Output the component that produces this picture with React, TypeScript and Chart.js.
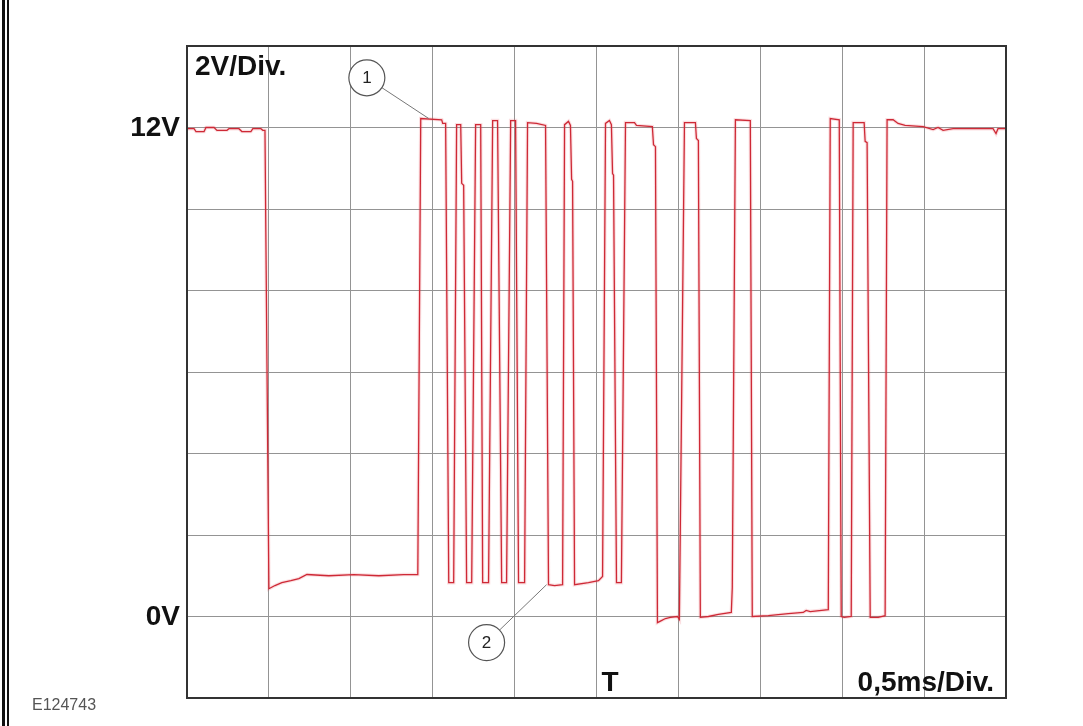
import React, { useEffect, useRef } from "react";
import { Chart, registerables } from "chart.js";

Chart.register(...registerables);

// Oscilloscope trace: time in ms (0,5 ms/Div, 10 divisions), voltage in V (2 V/Div)
const traceTimeMs = [
  0, 0.043, 0.055, 0.104, 0.116, 0.165, 0.183, 0.244, 0.256, 0.317, 0.335, 0.39, 0.402, 0.451, 0.463, 0.476,
  0.5, 0.537, 0.579, 0.634, 0.683, 0.732, 0.866, 1.018, 1.171, 1.323, 1.409,
  1.427, 1.555, 1.561, 1.579, 1.598, 1.628, 1.646, 1.671, 1.677, 1.689, 1.707, 1.738,
  1.762, 1.793, 1.805, 1.841, 1.866, 1.896, 1.921, 1.951, 1.976, 2.006, 2.024, 2.061,
  2.079, 2.134, 2.189, 2.207, 2.244, 2.293, 2.305, 2.329, 2.341, 2.348, 2.354, 2.366,
  2.451, 2.512, 2.537, 2.555, 2.579, 2.591, 2.598, 2.604, 2.622, 2.652,
  2.677, 2.732, 2.744, 2.841, 2.848, 2.86, 2.872, 2.896, 2.921, 2.951, 2.994, 3.006,
  3.037, 3.104, 3.11, 3.122, 3.134, 3.183, 3.244, 3.323, 3.329,
  3.348, 3.439, 3.451, 3.549, 3.671, 3.762, 3.78, 3.805, 3.915,
  3.927, 3.982, 3.994, 4.012, 4.055, 4.067, 4.134, 4.14, 4.152, 4.171, 4.22, 4.262,
  4.274, 4.311, 4.341, 4.384, 4.494, 4.555, 4.585, 4.616, 4.677, 4.799, 4.921, 4.939, 4.951, 5.0,
];
const traceVolts = [
  11.97, 11.97, 11.9, 11.9, 12.0, 12.0, 11.93, 11.93, 11.97, 11.97, 11.9, 11.9, 11.97, 11.97, 11.93, 11.93,
  0.68, 0.76, 0.83, 0.88, 0.93, 1.03, 1.0, 1.03, 1.0, 1.03, 1.03,
  12.22, 12.19, 12.1, 12.1, 0.83, 0.83, 12.07, 12.07, 10.63, 10.58, 0.83, 0.83,
  12.07, 12.07, 0.83, 0.83, 12.17, 12.17, 0.83, 0.83, 12.17, 12.17, 0.83, 0.83,
  12.12, 12.1, 12.05, 0.78, 0.76, 0.78, 12.07, 12.15, 12.05, 10.73, 10.68, 0.78,
  0.83, 0.88, 0.98, 12.1, 12.17, 12.07, 10.87, 10.83, 0.83, 0.83,
  12.12, 12.12, 12.05, 12.02, 11.58, 11.53, -0.15, -0.1, -0.05, -0.02, 0.0, -0.07,
  12.12, 12.12, 11.73, 11.68, -0.02, 0.0, 0.05, 0.1, 0.71,
  12.19, 12.17, 0.0, 0.02, 0.07, 0.1, 0.15, 0.12, 0.17,
  12.22, 12.19, 0.0, -0.02, 0.0, 12.12, 12.12, 11.66, 11.63, -0.02, -0.02, 0.02,
  12.19, 12.19, 12.1, 12.05, 12.02, 11.95, 12.0, 11.93, 11.97, 11.97, 11.97, 11.85, 11.97, 11.97,
];

const timeMin = 0;
const timeMax = 5;
const timeStep = 0.5;
const voltMin = -2;
const voltMax = 14;
const voltStep = 2;

const voltLabels = [
  { value: 12, text: "12V" },
  { value: 0, text: "0V" },
];
const scaleLabelY = "2V/Div.";
const scaleLabelX = "0,5ms/Div.";
const triggerLabel = "T";
const figureId = "E124743";

// Callouts: circle centre and leader target, in data units (ms, V)
const callouts = [
  { text: "1", cx: 1.098, cy: 13.22, tx: 1.476, ty: 12.22 },
  { text: "2", cx: 1.829, cy: -0.64, tx: 2.195, ty: 0.78 },
];

const FONT = '"Liberation Sans", Arial, Helvetica, sans-serif';

const decorPlugin = {
  id: "scopeDecor",
  afterDatasetsDraw(chart: any) {
    const { ctx, chartArea, scales } = chart;
    const xs = scales.x;
    const ys = scales.y;
    ctx.save();
    // plot frame
    ctx.strokeStyle = "#333333";
    ctx.lineWidth = 2;
    ctx.strokeRect(chartArea.left, chartArea.top, chartArea.right - chartArea.left, chartArea.bottom - chartArea.top);

    // left page rule (double line)
    ctx.fillStyle = "#111111";
    ctx.fillRect(2, 0, 3, chart.height);
    ctx.fillRect(7, 0, 2, chart.height);

    // voltage labels
    ctx.fillStyle = "#111111";
    ctx.font = `bold 28px ${FONT}`;
    ctx.textAlign = "right";
    ctx.textBaseline = "middle";
    for (const v of voltLabels) {
      ctx.fillText(v.text, chartArea.left - 7, ys.getPixelForValue(v.value) + 1);
    }
    // scale texts
    ctx.textBaseline = "alphabetic";
    ctx.textAlign = "left";
    ctx.fillText(scaleLabelY, chartArea.left + 8, chartArea.top + 29);
    ctx.textAlign = "right";
    ctx.fillText(scaleLabelX, chartArea.right - 12, chartArea.bottom - 7);
    ctx.textAlign = "left";
    ctx.fillText(triggerLabel, xs.getPixelForValue(2.5) + 5, chartArea.bottom - 7);

    // figure id
    ctx.font = `16px ${FONT}`;
    ctx.fillStyle = "#555555";
    ctx.textAlign = "left";
    ctx.fillText(figureId, 32, chartArea.bottom + 12);

    // callouts
    for (const c of callouts) {
      const cx = xs.getPixelForValue(c.cx);
      const cy = ys.getPixelForValue(c.cy);
      const tx = xs.getPixelForValue(c.tx);
      const ty = ys.getPixelForValue(c.ty);
      const r = 18;
      const ang = Math.atan2(ty - cy, tx - cx);
      ctx.strokeStyle = "#777777";
      ctx.lineWidth = 1;
      ctx.beginPath();
      ctx.moveTo(cx + r * Math.cos(ang), cy + r * Math.sin(ang));
      ctx.lineTo(tx, ty);
      ctx.stroke();
      ctx.beginPath();
      ctx.arc(cx, cy, r, 0, Math.PI * 2);
      ctx.fillStyle = "#ffffff";
      ctx.fill();
      ctx.strokeStyle = "#555555";
      ctx.lineWidth = 1.2;
      ctx.stroke();
      ctx.fillStyle = "#222222";
      ctx.font = `17px ${FONT}`;
      ctx.textAlign = "center";
      ctx.textBaseline = "middle";
      ctx.fillText(c.text, cx, cy + 1);
    }
    ctx.restore();
  },
};

export default function App() {
  const canvasRef = useRef<HTMLCanvasElement | null>(null);

  useEffect(() => {
    const canvas = canvasRef.current;
    if (!canvas) return;
    const points = traceTimeMs.map((t, i) => ({ x: t, y: traceVolts[i] }));
    const chart = new Chart(canvas, {
      type: "line",
      data: {
        datasets: [
          {
            data: points,
            borderColor: "rgba(235,80,90,0.18)",
            borderWidth: 3.5,
            pointRadius: 0,
            tension: 0,
            fill: false,
          },
          {
            data: points,
            borderColor: "#c8222f",
            borderWidth: 1.3,
            pointRadius: 0,
            tension: 0,
            fill: false,
          },
        ],
      },
      options: {
        animation: false,
        responsive: false,
        parsing: false,
        layout: { padding: { left: 187, top: 46, right: 77, bottom: 28 } },
        plugins: { legend: { display: false }, tooltip: { enabled: false }, title: { display: false } },
        scales: {
          x: {
            type: "linear",
            min: timeMin,
            max: timeMax,
            ticks: { stepSize: timeStep, display: false },
            grid: { color: "#949494", lineWidth: 1, drawTicks: false },
            border: { display: false },
          },
          y: {
            type: "linear",
            min: voltMin,
            max: voltMax,
            ticks: { stepSize: voltStep, display: false },
            grid: { color: "#949494", lineWidth: 1, drawTicks: false },
            border: { display: false },
          },
        },
      },
      plugins: [decorPlugin],
    });
    return () => chart.destroy();
  }, []);

  return (
    <div style={{ position: "fixed", left: 0, top: 0, width: 1083, height: 726, background: "#ffffff" }}>
      <canvas ref={canvasRef} width={1083} height={726} />
    </div>
  );
}
